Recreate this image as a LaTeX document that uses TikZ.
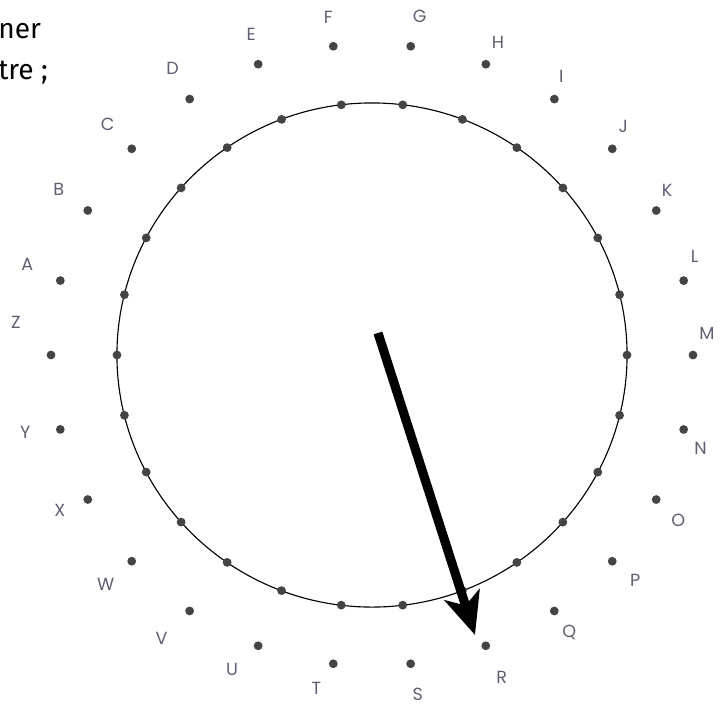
\documentclass[tikz,border=0pt]{standalone}
\usepackage{fontspec}
\setmainfont{Poppins}
\newfontfamily\handfont{Fira Sans}
\usetikzlibrary{arrows.meta,shapes.geometric}
\definecolor{dotgray}{RGB}{68,68,68}
\definecolor{lettergray}{RGB}{95,95,115}

\begin{document}
\begin{tikzpicture}[x=0.025cm, y=0.025cm,
    pt/.style={circle, fill=dotgray, inner sep=0pt, minimum size=2.2mm},
    letter/.style={text=lettergray, font=\fontsize{12.5}{14}\selectfont, inner sep=0pt}]
    \useasboundingbox (-372,-351) rectangle (355,355);

    % the wheel and its 26 inner points
    \node[draw, ellipse, minimum width=12.75cm, minimum height=12.6cm, inner sep=0pt, line width=0.8pt] (wheel) at (0,0) {};
    \foreach \k in {0,...,25} {
        \node[pt] (c\k) at ({96.92+13.846*\k}:255 and 252) {};
    }

    % outer points with their letters
    \foreach \l/\dx/\dy [count=\k from 0] in {F/-5/29, E/-7/30, D/-17/31, C/-24/24, B/-29/21, A/-33/16,
        Z/-35/33, Y/-35/-3, X/-28/-11, W/-26/-23, V/-28/-27, U/-26/-24, T/-17/-25, S/7/-31,
        R/16/-32, Q/15/-21, P/23/-19, O/22/-21, N/17/-19, M/14/22, L/11/24, K/11/20,
        J/11/22, I/7/23, H/12/22, G/9/30} {
        \node[pt] (d\l) at ({96.92+13.846*\k}:321 and 311) {};
        \node[letter] (t\l) at ([shift={(\dx,\dy)}]d\l) {\l};
    }

    % words cut at the left edge
    \node[anchor=base west, inner sep=0pt, font=\handfont\fontsize{20}{24}\selectfont] (w1) at (-374,317) {ner};
    \node[anchor=base west, inner sep=0pt, font=\handfont\fontsize{20}{24}\selectfont] (w2) at (-374,276) {tre ;};

    % the pointer
    \coordinate (p0) at (6,22);
    \coordinate (p1) at (103,-280);
    \draw[line width=6.5pt, -{Stealth[length=30, width=26, inset=8]}] (p0) -- (p1);
\end{tikzpicture}
\end{document}
